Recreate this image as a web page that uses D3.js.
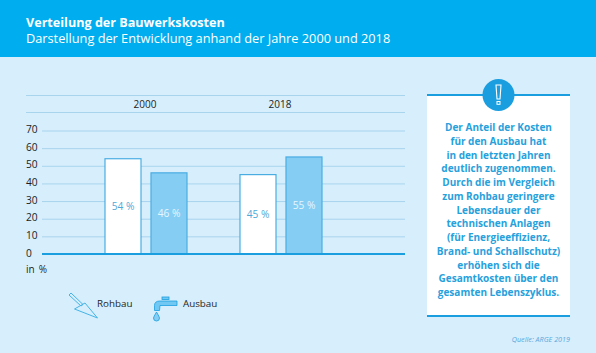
<!DOCTYPE html>
<html><head><meta charset="utf-8">
<script src="https://cdn.jsdelivr.net/npm/d3@7"></script>
<style>html,body{margin:0;padding:0;background:#d7eefc}svg{display:block}text{font-family:"Open Sans","Noto Sans",sans-serif}</style>
</head><body><svg id="c" width="596" height="353"></svg>
<script>
const years = ["2000", "2018"];
const seriesNames = ["Rohbau", "Ausbau"];
const rohbau = [54, 45];
const ausbau = [46, 55];
const yTicks = [0, 10, 20, 30, 40, 50, 60, 70];
const title = "Verteilung der Bauwerkskosten";
const subtitle = "Darstellung der Entwicklung anhand der Jahre 2000 und 2018";
const note = ["Der Anteil der Kosten","für den Ausbau hat","in den letzten Jahren","deutlich zugenommen.","Durch die im Vergleich","zum Rohbau geringere","Lebensdauer der","technischen Anlagen","(für Energieeffizienz,","Brand- und Schallschutz)","erhöhen sich die","Gesamtkosten über den","gesamten Lebenszyklus."];
const source = "Quelle: ARGE 2019";

const svg = d3.select("#c");
const blue = "#1a9ee0", grid = "#a8d4ee", ink = "#1d1d1b";
svg.append("rect").attr("width",596).attr("height",353).attr("fill","#d7eefc");
svg.append("rect").attr("width",596).attr("height",57).attr("fill","#00aeef");
svg.append("text").attr("x",26).attr("y",26.5).attr("fill","#fff").attr("font-size",12.6).attr("font-weight",700).text(title);
svg.append("text").attr("x",26).attr("y",43).attr("fill","#fff").attr("font-size",12.75).text(subtitle);

const y = d3.scaleLinear().domain([0,70]).range([254,130.5]);
const x0 = d3.scalePoint().domain(years).range([146,281]);
const x1 = d3.scaleBand().domain(seriesNames).range([-41,41]).paddingInner(10/46);

[95.5,112.5].forEach(v=>svg.append("line").attr("x1",26).attr("x2",405).attr("y1",v).attr("y2",v).attr("stroke",grid).attr("stroke-width",1));
years.forEach(t=>svg.append("text").attr("x",x0(t)-1).attr("y",108).attr("text-anchor","middle").attr("fill",ink).attr("font-size",10).attr("font-weight",500).text(t));

const axis = svg.append("g").attr("transform","translate(42,0)")
  .call(d3.axisLeft(y).tickValues(yTicks).tickSize(-363).tickFormat(d3.format("d")));
axis.select(".domain").remove();
axis.selectAll(".tick line").attr("stroke",grid).attr("stroke-width",1);
axis.selectAll(".tick text").attr("x",-16).attr("text-anchor","start").attr("fill",ink).attr("font-size",10.2).attr("dy","0.2em").style("font-family",'"Open Sans","Noto Sans",sans-serif');
svg.append("text").attr("x",26).attr("y",273).attr("fill",ink).attr("font-size",10).attr("word-spacing",1.5).text("in %");

const rows = years.flatMap((yr,i)=>[
  {yr,s:seriesNames[0],v:rohbau[i],fill:"#fff",tc:"#4fa9d8"},
  {yr,s:seriesNames[1],v:ausbau[i],fill:"#85cdf3",tc:"#e6f6ff"}]);
svg.selectAll("rect.bar").data(rows).join("rect").attr("class","bar")
  .attr("x",d=>x0(d.yr)+x1(d.s)).attr("width",x1.bandwidth())
  .attr("y",d=>y(d.v)).attr("height",d=>y(0)-y(d.v))
  .attr("fill",d=>d.fill).attr("stroke","#4aade2").attr("stroke-width",1.2);
svg.selectAll("text.val").data(rows).join("text").attr("class","val")
  .attr("x",d=>x0(d.yr)+x1(d.s)+x1.bandwidth()/2).attr("y",d=>(y(d.v)+y(0))/2+4)
  .attr("text-anchor","middle").attr("fill",d=>d.tc).attr("font-size",10.2).text(d=>d.v+" %");
svg.append("line").attr("x1",42).attr("x2",405).attr("y1",254).attr("y2",254).attr("stroke",blue).attr("stroke-width",2);

// legend icons
const trowel = svg.append("g").attr("fill","none").attr("stroke","#45b4e6").attr("stroke-width",1);
trowel.append("path").attr("d","M74.5 309 L85 303 L97.5 318 Z");
trowel.append("path").attr("d","M69 295 L71 293 L83 304.5 L81 306 Z");
svg.append("text").attr("x",97).attr("y",306.5).attr("fill",ink).attr("font-size",9.8).attr("font-weight",500).text(seriesNames[0]);
const tap = svg.append("g");
tap.append("path").attr("d","M177 301 L177 305.5 L160 305.5 L159.5 310.5 L154.5 310.5 L154.5 305.5 Q154.5 301 160 301 Z").attr("fill","#71c8f2").attr("stroke",blue).attr("stroke-width",.8);
tap.append("rect").attr("x",162).attr("y",297).attr("width",7).attr("height",2.5).attr("fill","#71c8f2").attr("stroke",blue).attr("stroke-width",.8);
tap.append("path").attr("d","M156.5 312 Q153.5 317 153.5 318 A3 3 0 0 0 159.5 318 Q159.5 317 156.5 312 Z").attr("fill","#85cdf3").attr("stroke",blue).attr("stroke-width",.8);
svg.append("text").attr("x",183).attr("y",306.5).attr("fill",ink).attr("font-size",9.8).attr("font-weight",500).text(seriesNames[1]);

// note panel
svg.append("rect").attr("x",427).attr("y",95).attr("width",143).attr("height",221).attr("fill","#fff");
svg.append("line").attr("x1",427).attr("x2",570).attr("y1",95).attr("y2",95).attr("stroke",blue).attr("stroke-width",2);
svg.append("line").attr("x1",427).attr("x2",570).attr("y1",316).attr("y2",316).attr("stroke",blue).attr("stroke-width",2);
svg.append("circle").attr("cx",498.5).attr("cy",95).attr("r",16).attr("fill",blue);
svg.append("path").attr("d","M496 85 H501 L500 99 H497 Z").attr("fill","none").attr("stroke","#fff").attr("stroke-width",1.1);
svg.append("rect").attr("x",497).attr("y",101.5).attr("width",3).attr("height",2.8).attr("fill","none").attr("stroke","#fff").attr("stroke-width",1);
svg.selectAll("text.note").data(note).join("text").attr("class","note")
  .attr("x",498.5).attr("y",(d,i)=>131+i*13.75).attr("text-anchor","middle")
  .attr("fill","#27a1dc").attr("font-size",10).attr("font-weight",700).text(d=>d);
svg.append("text").attr("x",570).attr("y",342).attr("text-anchor","end").attr("fill","#5aa9dc").attr("font-size",7.2).attr("font-style","italic").text(source);
</script></body></html>
